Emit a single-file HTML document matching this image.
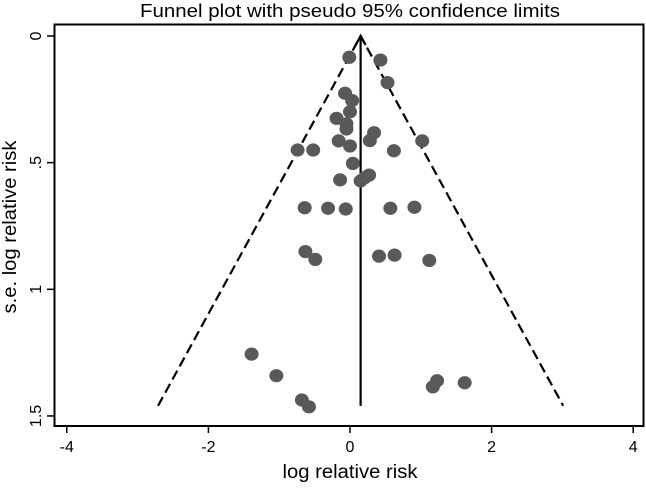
<!DOCTYPE html>
<html><head><meta charset="utf-8"><style>
body{margin:0;background:#fff;}
svg text{font-family:"Liberation Sans",Arial,sans-serif;fill:#000;}
</style></head><body>
<svg id="chart" width="646" height="483" viewBox="0 0 646 483">
<rect width="646" height="483" fill="#fff"/>
<text x="350" y="17" font-size="18" text-anchor="middle" textLength="420" lengthAdjust="spacingAndGlyphs">Funnel plot with pseudo 95% confidence limits</text>
<rect x="54.5" y="24.5" width="589" height="401.5" fill="none" stroke="#000" stroke-width="2"/>
<g id="xaxis"></g>
<g id="yaxis"></g>
<text x="350" y="478" font-size="19" text-anchor="middle" textLength="135" lengthAdjust="spacingAndGlyphs">log relative risk</text>
<text transform="translate(16,227) rotate(-90)" font-size="19" text-anchor="middle" textLength="173" lengthAdjust="spacingAndGlyphs">s.e. log relative risk</text>
<g id="funnel"></g>
<g id="points"></g>
</svg>
<script>
const xTicks=[-4,-2,0,2,4];
const xTickLabels=["-4","-2","0","2","4"];
const yTicks=[0,0.5,1,1.5];
const yTickLabels=["0",".5","1","1.5"];
const pooledEffect=0.15;
const maxSE=1.46;
const logRR=[-0.01,0.43,0.53,-0.07,0.03,0.0,-0.19,-0.05,-0.05,0.34,0.28,1.02,-0.16,0.0,-0.74,-0.52,0.62,0.04,0.27,0.21,-0.14,0.15,-0.64,-0.31,-0.06,0.57,0.91,-0.63,-0.49,0.41,0.63,1.12,-1.39,-1.04,1.23,1.17,1.62,-0.68,-0.58];
const seLogRR=[0.084,0.095,0.184,0.226,0.255,0.299,0.325,0.347,0.367,0.382,0.413,0.414,0.414,0.434,0.45,0.45,0.453,0.503,0.549,0.559,0.568,0.572,0.678,0.68,0.683,0.68,0.676,0.851,0.882,0.869,0.865,0.886,1.256,1.341,1.361,1.385,1.369,1.437,1.464];
const NS="http://www.w3.org/2000/svg";
const X=v=>350+v*70.8;
const Y=v=>36+v*253.3;
function mk(t,a,p){const e=document.createElementNS(NS,t);for(const k in a)e.setAttribute(k,a[k]);p.appendChild(e);return e;}
const xa=document.getElementById('xaxis'),ya=document.getElementById('yaxis');
xTicks.forEach((t,i)=>{
 const l=mk('line',{x1:X(t),x2:X(t),y1:426,y2:433,stroke:'#000','stroke-width':1.5},xa);
 
 
 const tx=mk('text',{x:X(t),y:452,'font-size':16,'text-anchor':'middle'},xa);
 tx.textContent=xTickLabels[i];
 
 
});
yTicks.forEach((t,i)=>{
 const l=mk('line',{x1:47,x2:54.5,y1:Y(t),y2:Y(t),stroke:'#000','stroke-width':1.5},ya);
 
 
 const tx=mk('text',{transform:`translate(41,${Y(t)}) rotate(-90)`,'font-size':16,'text-anchor':'middle'},ya);
 tx.textContent=yTickLabels[i];
 
 
});
const f=document.getElementById('funnel');
const half=1.96*maxSE;
const dl=mk('path',{d:`M${X(pooledEffect-half)},${Y(maxSE)} L${X(pooledEffect)},${Y(0)} L${X(pooledEffect+half)},${Y(maxSE)}`,fill:'none',stroke:'#000','stroke-width':2.2,'stroke-dasharray':'10,5'},f);


const vl=mk('line',{x1:X(pooledEffect),x2:X(pooledEffect),y1:Y(0)+1,y2:Y(maxSE),stroke:'#000','stroke-width':2.2},f);


const ar=mk('path',{d:`M${X(pooledEffect)-5},${Y(0)+9} L${X(pooledEffect)},${Y(0)} L${X(pooledEffect)+5},${Y(0)+9}`,fill:'none',stroke:'#000','stroke-width':2.2},f);


const pg=document.getElementById('points');
logRR.forEach((v,i)=>{
 const c=mk('ellipse',{cx:X(v),cy:Y(seLogRR[i]),rx:7,ry:6.6,fill:'#595959'},pg);
 
 
});
</script>
</body></html>
